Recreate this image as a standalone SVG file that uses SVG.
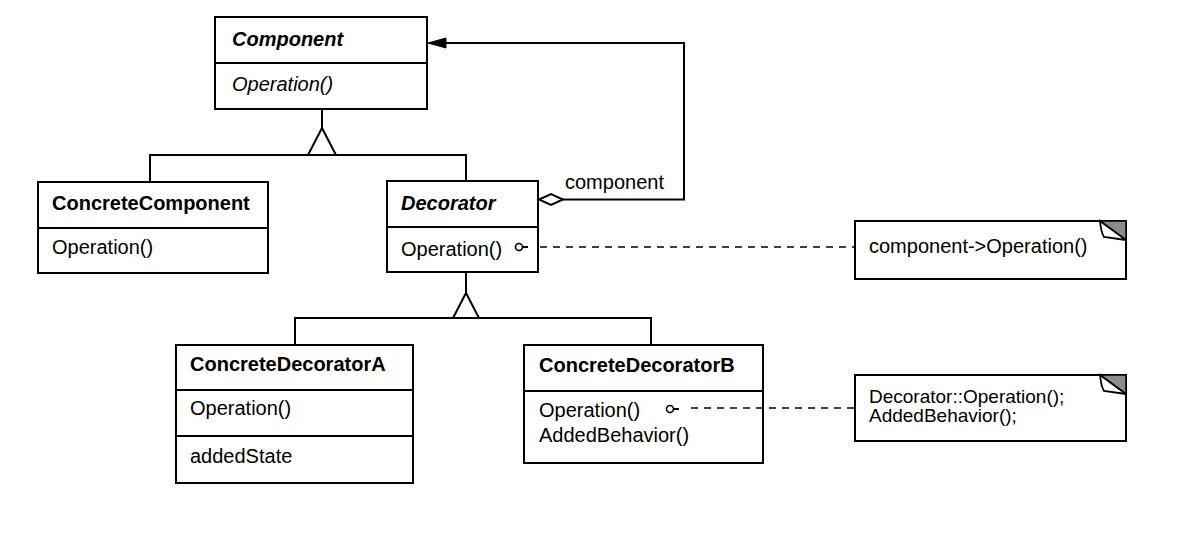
<svg xmlns="http://www.w3.org/2000/svg" width="1190" height="537" viewBox="0 0 1190 537">
<style>
.box{fill:#fff;stroke:#000;stroke-width:2}
.ln{fill:none;stroke:#000;stroke-width:2}
.dash{fill:none;stroke:#000;stroke-width:1.6;stroke-dasharray:7 6}
.open{fill:#fff;stroke:#000;stroke-width:2;stroke-linejoin:miter}
.shade{fill:#8c8c8c;stroke:#000;stroke-width:1.5}
.flap{fill:#fff;stroke:#000;stroke-width:1.8}
text{font-family:"Liberation Sans",Arial,Helvetica,sans-serif;font-size:20px;fill:#000}
.b{font-weight:bold}
.i{font-style:italic}
.n{font-size:19px}
</style>
<rect width="1190" height="537" fill="#fff"/>

<g id="Component">
  <rect class="box" x="215" y="17" width="212" height="92"/>
  <line class="ln" x1="215" y1="63" x2="427" y2="63"/>
  <text class="b i" x="232" y="46">Component</text>
  <text class="i" x="232" y="91">Operation()</text>
</g>

<g id="ConcreteComponent">
  <rect class="box" x="38" y="182" width="230" height="91"/>
  <line class="ln" x1="38" y1="228" x2="268" y2="228"/>
  <text class="b" x="52" y="210">ConcreteComponent</text>
  <text x="52" y="254">Operation()</text>
</g>

<g id="Decorator">
  <rect class="box" x="387" y="181" width="151" height="91"/>
  <line class="ln" x1="387" y1="227" x2="538" y2="227"/>
  <text class="b i" x="401" y="210">Decorator</text>
  <text x="401" y="256">Operation()</text>
</g>

<g id="ConcreteDecoratorA">
  <rect class="box" x="176" y="345" width="237" height="138"/>
  <line class="ln" x1="176" y1="390" x2="413" y2="390"/>
  <line class="ln" x1="176" y1="436" x2="413" y2="436"/>
  <text class="b" x="190" y="371">ConcreteDecoratorA</text>
  <text x="190" y="415">Operation()</text>
  <text x="190" y="463">addedState</text>
</g>

<g id="ConcreteDecoratorB">
  <rect class="box" x="524" y="345" width="239" height="118"/>
  <line class="ln" x1="524" y1="391" x2="763" y2="391"/>
  <text class="b" x="539" y="372">ConcreteDecoratorB</text>
  <text x="539" y="417">Operation()</text>
  <text x="539" y="442">AddedBehavior()</text>
</g>

<g id="Note1">
  <rect class="box" x="855" y="221" width="271" height="58"/>
  <polygon class="shade" points="1100,221 1126,221 1126,240"/>
  <path class="flap" d="M1100,221 Q1101,232 1104,237 L1126,240 Z"/>
  <text x="869" y="253">component-&gt;Operation()</text>
</g>

<g id="Note2">
  <rect class="box" x="855" y="375" width="271" height="66"/>
  <polygon class="shade" points="1100,375 1126,375 1126,394"/>
  <path class="flap" d="M1100,375 Q1101,386 1104,391 L1126,394 Z"/>
  <text class="n" x="869" y="403">Decorator::Operation();</text>
  <text class="n" x="869" y="422">AddedBehavior();</text>
</g>

<g id="connectors">
  <!-- Component generalization -->
  <path class="ln" d="M322,109 V128"/>
  <path class="ln" d="M150,182 V155 H466 V181"/>
  <polygon class="open" points="322,128 308,155 336,155"/>
  <!-- Decorator generalization -->
  <path class="ln" d="M466,272 V293"/>
  <path class="ln" d="M295,345 V318 H651 V345"/>
  <polygon class="open" points="466,293 453,318 479,318"/>
  <!-- aggregation Decorator -> Component -->
  <path class="ln" d="M563,199.5 H684 V43 H444"/>
  <polygon points="428,43 446,38 446,48" fill="#000" stroke="#000" stroke-width="1"/>
  <polygon class="open" points="539,199.5 551,194 563,199.5 551,205"/>
  <text x="565" y="189">component</text>
  <!-- note link Decorator -->
  <circle cx="519" cy="247" r="3.5" fill="#fff" stroke="#000" stroke-width="1.6"/>
  <path class="ln" d="M522.5,247 H528" stroke-width="1.6"/>
  <path class="dash" d="M540,247 H855"/>
  <!-- note link ConcreteDecoratorB -->
  <circle cx="670" cy="409" r="3.5" fill="#fff" stroke="#000" stroke-width="1.6"/>
  <path class="ln" d="M673.5,409 H679" stroke-width="1.6"/>
  <path class="dash" d="M691,408 H855"/>
</g>
</svg>
